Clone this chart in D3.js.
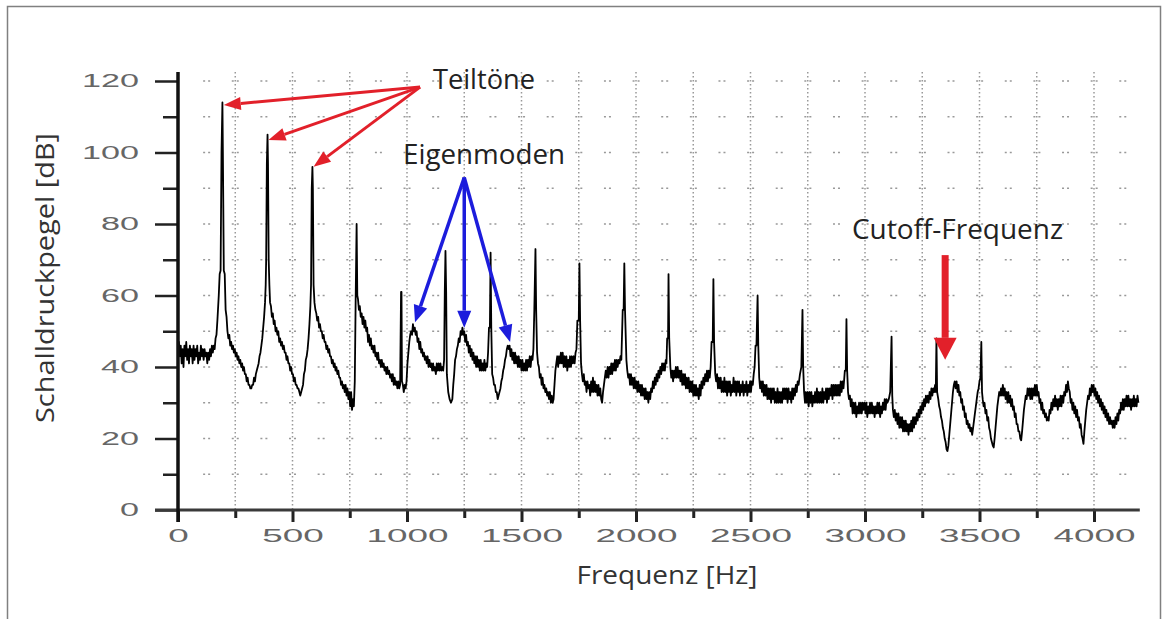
<!DOCTYPE html>
<html>
<head>
<meta charset="utf-8">
<script src="https://cdn.jsdelivr.net/npm/d3@7/dist/d3.min.js"></script>
<style>
  body { margin: 0; background: #fff; }
  svg { display: block; }
</style>
</head>
<body>
<svg id="chart" width="1166" height="619"></svg>
<script>
// axis ticks
const yTicks = [0, 20, 40, 60, 80, 100, 120];
const yMinorTicks = [10, 30, 50, 70, 90, 110];
const xTicks = [0, 500, 1000, 1500, 2000, 2500, 3000, 3500, 4000];
const xMinorTicks = [250, 750, 1250, 1750, 2250, 2750, 3250, 3750];
const gridHz = [250, 500, 750, 1000, 1250, 1500, 1750, 2000, 2250, 2500, 2750, 3000, 3250, 3500, 3750, 4000];
const gridDb = [10, 20, 30, 40, 50, 60, 70, 80, 90, 100, 110, 120];

// spectrum [Hz, dB]
const spectrumLow = [
  [0,44],[4,47],[8,43],[12,46],[16,41],[20,45],[24,40],[28,46],[32,43],[36,47],[40,42],[44,45],[48,41],[52,46],
  [56,43],[60,45],[64,41],[68,46],[72,42],[76,45],[80,43],[84,46],[88,41],[92,44],[96,42],[100,46],[104,43],
  [108,45],[112,42],[116,45],[120,43],[124,44],[128,41],[132,44],[136,42],[140,45],[144,43],[148,46],[152,44],
  [156,46],[160,45],[164,48],[168,49],[172,53],[178,60],[182,66],[186,67],[190,100],[194,114],[196,100],[200,67],
  [204,66],[208,56],[212,54],[216,50],[220,48],[224,49],[228,46],[232,47],[236,45],[240,46],[244,44],[248,45],
  [252,43],[256,44],[260,42],[264,43],[268,41],[272,42],[276,40],[280,41],[284,39],[288,40],[292,38],[296,38],
  [300,36],[304,37],[308,35],[312,35],[316,34],[320,34],[324,35],[328,35],[332,37],[336,36],[340,38],[344,39],
  [348,40],[352,41],[356,43],[360,44],[364,46],[368,48],[372,51],[376,54],[380,58],[383,63],[385,70],[388,97],
  [391,105],[393,97],[396,70],[399,63],[402,58],[406,57],[410,54],[414,55],[418,52],[422,53],[426,50],[430,51],
  [434,49],[438,50],[442,47],[446,48],[450,46],[454,47],[458,45],[462,46],[466,44],[470,44],[474,42],[478,43],
  [482,41],[486,41],[490,39],[494,40],[498,38],[502,38],[506,36],[510,37],[514,35],[518,35],[522,34],[526,34],
  [530,33],[534,32],[538,33],[542,34],[546,35],[550,38],[554,39],[558,42],[562,43],[566,45],[570,48],[574,52],
  [578,57],[581,63],[584,90],[587,96],[589,90],[592,63],[596,58],[600,56],[604,55],[608,53],[612,54],[616,51],
  [620,52],[624,50],[628,50],[632,48],[636,49],[640,47],[644,47],[648,45],[652,46],[656,44],[660,45],[664,43],
  [668,43],[672,41],[676,42],[680,40],[684,41],[688,39],[692,40],[696,38],[700,39],[704,37],[708,37],[712,35],
  [716,36],[720,34],[724,35],[728,33],[732,35],[736,32],[740,34],[744,31],[748,33],[752,29],[756,33],[760,28],
  [764,31],[768,29],[772,36],[776,60],[780,80],[783,60],[786,59],[790,56],[794,57],[798,54],[802,55],[806,52],
  [810,54],[814,51],[818,53],[822,50],[826,51],[830,47],[834,49],[838,46],[842,48],[846,45],[850,46],[854,44],
  [858,46],[862,43],[866,44],[870,42],[874,44],[878,41],[882,42],[886,40],[890,42],[894,40],[898,41],[902,39],
  [906,40],[910,38],[914,40],[918,38],[922,39],[926,37],[930,38],[934,36],[938,38],[942,35],[946,37],[950,35],
  [954,36],[958,34],[962,36],[966,34],[970,35],[974,61],[976,61],[978,36],[982,35],[986,33],[990,35],[994,34],
  [998,36],[1002,41],[1006,44],[1010,47],[1014,49],[1018,50],[1022,49],[1026,52],[1030,50],[1034,51],[1038,49],
  [1042,50],[1046,47],[1050,48],[1054,45],[1058,47],[1062,44],[1066,45],[1070,43],[1074,44],[1078,42],[1082,43],
  [1086,41],[1090,43],[1094,40],[1098,42],[1102,40],[1106,41],[1110,39],[1114,41],[1118,39],[1122,40],[1126,38],
  [1130,41],[1134,39],[1138,41],[1142,39],[1146,41],[1150,39],[1154,40],[1158,39],[1162,42],[1165,61],[1168,72.5],
  [1171,61],[1174,38],[1180,33],[1186,31],[1192,30]
];
const spectrumMid = [
  [1198,31],[1202,35],[1206,38],[1210,42],[1214,43],[1218,45],[1222,46],[1226,48],[1230,47],[1234,50],[1238,49],
  [1242,51],[1246,49],[1250,50],[1254,47],[1258,49],[1262,46],[1266,47],[1270,44],[1274,46],[1278,43],[1282,45],
  [1286,42],[1290,44],[1294,41],[1298,43],[1302,40],[1306,43],[1310,40],[1314,42],[1318,39],[1322,42],[1326,39],
  [1330,41],[1334,39],[1338,42],[1342,39],[1346,41],[1350,40],[1354,44],[1358,51],[1362,51],[1365,72],[1368,51],
  [1372,38],[1376,37],[1380,35],[1384,35],[1388,33],[1392,33],[1396,31],[1400,32],[1404,33],[1408,34],[1412,36],
  [1416,37],[1420,39],[1424,40],[1428,42],[1432,43],[1436,45],[1440,46],[1444,45],[1448,46],[1452,43],[1456,45],
  [1460,42],[1464,44],[1468,41],[1472,44],[1476,41],[1480,43],[1484,40],[1488,43],[1492,40],[1496,42],[1500,39],
  [1504,42],[1508,39],[1512,41],[1516,39],[1520,42],[1524,39],[1528,42],[1532,40],[1536,43],[1540,40],[1544,43],
  [1548,42],[1552,45],[1556,56],[1561,73],[1564,56],[1568,44],[1572,41],[1576,40],[1580,37],[1584,38],[1588,35],
  [1592,37],[1596,34],[1600,35],[1604,33],[1608,34],[1612,32],[1616,33],[1620,31],[1624,33],[1628,30],[1632,32],
  [1636,30],[1640,31],[1644,35],[1648,39],[1652,41],[1656,43],[1660,40],[1664,43],[1668,41],[1672,44],[1676,41],
  [1680,44],[1684,40],[1688,43],[1692,40],[1696,43],[1700,39],[1704,42],[1708,40],[1712,43],[1716,40],[1720,43],
  [1724,41],[1728,43],[1732,41],[1736,44],[1740,45],[1744,53],[1750,53],[1753,69],[1756,53],[1760,41],[1764,38],
  [1768,36],[1772,38],[1776,35],[1780,36],[1784,33],[1788,36],[1792,34],[1796,35],[1800,32],[1804,36],[1808,33],
  [1812,37],[1816,33],[1820,36],[1824,33],[1828,35],[1832,32],[1836,35],[1840,32],[1844,34],[1848,31],[1852,30],
  [1856,33],[1860,35],[1864,37],[1868,39],[1872,37],[1876,40],[1880,37],[1884,40],[1888,38],[1892,41],[1896,38],
  [1900,41],[1904,39],[1908,42],[1912,39],[1916,42],[1920,40],[1924,42],[1928,41],[1932,43],[1936,42],[1942,56],
  [1946,56],[1949,69],[1952,56],[1958,42],[1962,39],[1966,37],[1970,38],[1974,35],[1978,38],[1982,35],[1986,37],
  [1990,34],[1994,37],[1998,34],[2002,36],[2006,33],[2010,36],[2014,33],[2018,35],[2022,32],[2026,35],[2030,32],
  [2034,34],[2038,31],[2042,34],[2046,31],[2050,33],[2054,30],[2058,33],[2062,31],[2066,34],[2070,33],[2074,36],
  [2078,34],[2082,37],[2086,35],[2090,38],[2094,36],[2098,39],[2102,37],[2106,40],[2110,38],[2114,41],[2118,39],
  [2122,41],[2126,39],[2130,42],[2133,41],[2136,48],[2140,48],[2142,66],[2145,48],[2150,40],[2154,37],[2158,39],
  [2162,36],[2166,39],[2170,37],[2174,40],[2178,37],[2182,40],[2186,37],[2190,39],[2194,36],[2198,39],[2202,35],
  [2206,38],[2210,35],[2214,38],[2218,34],[2222,37],[2226,34],[2230,37],[2234,33],[2238,36],[2242,33],[2246,36],
  [2250,32],[2254,35],[2258,32],[2262,35],[2266,32],[2270,34],[2274,31],[2278,35],[2282,32],[2286,36],[2290,34],
  [2294,37],[2298,35],[2302,38],[2306,36],[2310,39],[2314,36],[2318,39],[2322,37],[2326,40],[2330,47],[2335,47],
  [2338,64.6],[2341,47],[2346,38]
];
const spectrumHigh = [
  [2350,36],[2354,38],[2358,34],[2362,37],[2366,34],[2370,37],[2374,33],[2378,36],[2382,33],[2386,37],[2390,33],
  [2394,36],[2398,32],[2402,36],[2406,33],[2410,36],[2414,32],[2418,35],[2422,33],[2426,37],[2430,33],[2434,36],
  [2438,32],[2442,36],[2446,33],[2450,36],[2454,32],[2458,35],[2462,33],[2466,36],[2470,32],[2474,35],[2478,33],
  [2482,36],[2486,32],[2490,35],[2494,33],[2498,36],[2502,33],[2506,36],[2510,35],[2514,38],[2518,40],[2522,46],
  [2526,46],[2531,60],[2534,46],[2538,37],[2542,34],[2546,36],[2550,33],[2554,36],[2558,32],[2562,35],[2566,32],
  [2570,35],[2574,31],[2578,34],[2582,31],[2586,34],[2590,30],[2594,34],[2598,31],[2602,34],[2606,30],[2610,33],
  [2614,30],[2618,34],[2622,30],[2626,33],[2630,30],[2634,33],[2638,30],[2642,34],[2646,31],[2650,34],[2654,31],
  [2658,34],[2662,30],[2666,34],[2670,31],[2674,33],[2678,30],[2682,34],[2686,31],[2690,34],[2694,32],[2698,35],
  [2702,33],[2706,36],[2710,35],[2716,38],[2722,40],[2727,56],[2730,40],[2734,33],[2738,30],[2742,33],[2746,30],
  [2750,33],[2754,29],[2758,33],[2762,30],[2766,33],[2770,29],[2774,32],[2778,30],[2782,33],[2786,30],[2790,34],
  [2794,30],[2798,33],[2802,30],[2806,33],[2810,30],[2814,34],[2818,30],[2822,33],[2826,31],[2830,34],[2834,30],
  [2838,34],[2842,31],[2846,34],[2850,32],[2854,35],[2858,31],[2862,35],[2866,32],[2870,35],[2874,32],[2878,35],
  [2882,32],[2886,35],[2890,32],[2894,36],[2898,33],[2902,36],[2906,34],[2912,39],[2916,39],[2919,53.4],[2922,39],
  [2926,33],[2930,31],[2934,32],[2938,29],[2942,31],[2946,27],[2950,30],[2954,27],[2958,30],[2962,26],[2966,29],
  [2970,27],[2974,30],[2978,27],[2982,30],[2986,27],[2990,30],[2994,28],[2998,30],[3002,27],[3006,30],[3010,26],
  [3014,29],[3018,27],[3022,30],[3026,27],[3030,30],[3034,27],[3038,29],[3042,26],[3046,29],[3050,27],[3054,30],
  [3058,27],[3062,30],[3066,26],[3070,29],[3074,27],[3078,30],[3082,28],[3086,31],[3090,28],[3094,31],[3098,30],
  [3104,31],[3110,33],[3116,48.5],[3119,32],[3122,28],[3126,26],[3130,28],[3134,25],[3138,27],[3142,24],[3146,27],
  [3150,23],[3154,26],[3158,23],[3162,26],[3166,22],[3170,25],[3174,22],[3178,25],[3182,22],[3186,24],[3190,21],
  [3194,24],[3198,22],[3202,25],[3206,22],[3210,26],[3214,23],[3218,26],[3222,24],[3226,27],[3230,25],[3234,28],
  [3238,26],[3242,29],[3246,27],[3250,30],[3254,28],[3258,31],[3262,29],[3266,32],[3270,30],[3274,32],[3278,30],
  [3282,33],[3286,31],[3290,34],[3294,32],[3298,34],[3302,33],[3306,35],[3309,33],[3312,48],[3315,33],[3320,31],
  [3324,29],[3328,28],[3332,26],[3336,25],[3340,23],[3344,22],[3348,20],[3352,19],[3356,17],[3360,16.5],[3364,18],
  [3368,21],[3372,24],[3376,27],[3380,30],[3384,33],[3388,35],[3392,36],[3396,34],[3400,36],[3404,33],[3408,35],
  [3412,32],[3416,33],[3420,30],[3424,31],[3428,28],[3432,29],[3436,26],[3440,27],[3444,24],[3448,25],[3452,23],
  [3456,24],[3460,22],[3464,23],[3468,21],[3472,23],[3476,25],[3480,27],[3484,29],[3488,31],[3492,33],[3496,34],
  [3500,36],[3504,37],[3508,47],[3511,33],[3514,31],[3518,29],[3522,30],[3526,27],[3530,28],[3534,25],[3538,26],
  [3542,23],[3546,22],[3550,20],[3554,19],[3558,18],[3562,17.5],[3566,20],[3570,23],[3574,26],[3578,29],[3582,31],
  [3586,33],[3590,32],[3594,34],[3598,32],[3602,35],[3606,32],[3610,34],[3614,31],[3618,33],[3622,30],[3626,33],
  [3630,30],[3634,32],[3638,29],[3642,31],[3646,28],[3650,29],[3654,26],[3658,27],[3662,24],[3666,24],[3670,22],
  [3674,22],[3678,20],[3682,19.5],[3686,22],[3690,25],[3694,28],[3698,30],[3702,32],[3706,31],[3710,34],[3714,32],
  [3718,34],[3722,31],[3726,34],[3730,31],[3734,34],[3738,32],[3742,35],[3746,32],[3750,35],[3754,32],[3758,33],
  [3762,30],[3766,31],[3770,28],[3774,30],[3778,27],[3782,28],[3786,26],[3790,27],[3794,25],[3798,26],[3802,25],
  [3806,28],[3810,27],[3814,30],[3818,28],[3822,31],[3826,29],[3830,32],[3834,29],[3838,31],[3842,28],[3846,31],
  [3850,29],[3854,32],[3858,29],[3862,32],[3866,30],[3870,33],[3874,32],[3878,35],[3882,33],[3886,36],[3890,34],
  [3894,33],[3898,30],[3902,31],[3906,28],[3910,30],[3914,27],[3918,29],[3922,26],[3926,28],[3930,25],[3934,26],
  [3938,23],[3942,24],[3946,21],[3950,20],[3954,18.5],[3958,22],[3962,25],[3966,28],[3970,30],[3974,32],[3978,31],
  [3982,34],[3986,32],[3990,35],[3994,33],[3998,35],[4002,32],[4006,34],[4010,31],[4014,33],[4018,30],[4022,32],
  [4026,29],[4030,31],[4034,28],[4038,30],[4042,27],[4046,29],[4050,26],[4054,28],[4058,25],[4062,27],[4066,24],
  [4070,26],[4074,24],[4078,25],[4082,23],[4086,25],[4090,23],[4094,26],[4098,24],[4102,27],[4106,25],[4110,28],
  [4114,27],[4118,30],[4122,28],[4126,31],[4130,28],[4134,31],[4138,29],[4142,32],[4146,29],[4150,32],[4154,29],
  [4158,31],[4162,28],[4166,31],[4170,29],[4174,32],[4178,29],[4182,31],[4186,29],[4190,32],[4194,30]
];
const spectrum = spectrumLow.concat(spectrumMid, spectrumHigh);

// annotations, in data units [Hz, dB]
const partialFrom = [1057, 118.3];
const partialTips = [[200, 113.3], [395, 103.5], [592, 96]];
const modeFrom = [1250, 93];
const modeTips = [[1035, 52.5], [1250, 51], [1450, 47]];
const cutoffHz = 3350;
const cutoffDb = [71.3, 42];

const svg = d3.select('#chart');
const red = '#e2202a';
const blue = '#1c1cdc';

const x = d3.scaleLinear().domain([0, 4200]).range([178, 1139.8]);
const y = d3.scaleLinear().domain([0, 120]).range([510, 81]);

// outer frame
svg.append('path')
  .attr('d', 'M7.5,619V6.5H1160.5V619')
  .attr('fill', 'none')
  .attr('stroke', '#808080')
  .attr('stroke-width', 1.5);

// dotted grid
svg.append('g').selectAll('line')
  .data(gridHz)
  .join('line')
  .attr('x1', d => x(d)).attr('x2', d => x(d))
  .attr('y1', 72).attr('y2', 510)
  .attr('stroke', '#999')
  .attr('stroke-width', 1.5)
  .attr('stroke-dasharray', '1.5,2.5');

const groupW = 7;
svg.append('g').selectAll('line')
  .data(gridDb)
  .join('line')
  .attr('x1', x(125) - groupW / 2).attr('x2', x(4200))
  .attr('y1', d => y(d)).attr('y2', d => y(d))
  .attr('stroke', '#999')
  .attr('stroke-width', 1.5)
  .attr('stroke-dasharray', `2,3,2,${(x(125) - x(0) - groupW).toFixed(2)}`);

// spectrum line
const line = d3.line()
  .x(d => x(d[0]))
  .y(d => y(d[1]));

svg.append('path')
  .datum(spectrum)
  .attr('fill', 'none')
  .attr('stroke', '#000')
  .attr('stroke-width', 1.8)
  .attr('stroke-linejoin', 'round')
  .attr('d', line);

// axes
const tickFont = g => g.selectAll('text')
  .attr('font-family', '"Liberation Sans", Arial, sans-serif')
  .attr('font-size', 18)
  .attr('fill', '#666')
  .attr('lengthAdjust', 'spacingAndGlyphs');

const yAxis = svg.append('g')
  .attr('transform', `translate(${x(0)},0)`)
  .call(d3.axisLeft(y).tickValues(yTicks).tickSize(23).tickPadding(16).tickFormat(d3.format('d')))
  .call(tickFont);
yAxis.selectAll('text').attr('textLength', function () { return this.textContent.length * 19; });
yAxis.selectAll('.tick line').attr('stroke', '#222').attr('stroke-width', 2.5);
yAxis.select('.domain').remove();

const yMinor = svg.append('g')
  .attr('transform', `translate(${x(0)},0)`)
  .call(d3.axisLeft(y).tickValues(yMinorTicks).tickSize(15).tickFormat(''));
yMinor.selectAll('.tick line').attr('stroke', '#222').attr('stroke-width', 2.5);
yMinor.select('.domain').remove();

const xAxis = svg.append('g')
  .attr('transform', `translate(0,${y(0)})`)
  .call(d3.axisBottom(x).tickValues(xTicks).tickSize(12).tickPadding(7).tickFormat(d3.format('d')))
  .call(tickFont);
xAxis.selectAll('text').attr('textLength', function () { return this.textContent.length * 20.5; });
xAxis.selectAll('.tick line').attr('stroke', '#222').attr('stroke-width', 3);
xAxis.select('.domain').remove();

const xMinor = svg.append('g')
  .attr('transform', `translate(0,${y(0)})`)
  .call(d3.axisBottom(x).tickValues(xMinorTicks).tickSize(8).tickFormat(''));
xMinor.selectAll('.tick line').attr('stroke', '#222').attr('stroke-width', 3);
xMinor.select('.domain').remove();

// axis lines
svg.append('line')
  .attr('x1', x(0) - 23).attr('x2', x(4200))
  .attr('y1', y(0)).attr('y2', y(0))
  .attr('stroke', '#3a3a3a').attr('stroke-width', 3);
svg.append('line')
  .attr('x1', x(0)).attr('x2', x(0))
  .attr('y1', 72).attr('y2', y(0) + 12)
  .attr('stroke', '#111').attr('stroke-width', 3.5);

// axis titles
svg.append('text')
  .attr('x', 667).attr('y', 584)
  .attr('text-anchor', 'middle')
  .attr('font-family', '"Open Sans", sans-serif')
  .attr('font-size', 26)
  .attr('fill', '#333')
  .attr('textLength', 181).attr('lengthAdjust', 'spacingAndGlyphs')
  .text('Frequenz [Hz]');

svg.append('text')
  .attr('transform', 'translate(54,278) rotate(-90)')
  .attr('text-anchor', 'middle')
  .attr('font-family', '"Open Sans", sans-serif')
  .attr('font-size', 26)
  .attr('fill', '#333')
  .attr('textLength', 290).attr('lengthAdjust', 'spacingAndGlyphs')
  .text('Schalldruckpegel [dB]');

// arrows
function arrow(from, to, color, width, headLen, headW) {
  const x1 = from[0], y1 = from[1], x2 = to[0], y2 = to[1];
  const a = Math.atan2(y2 - y1, x2 - x1);
  const bx = x2 - headLen * Math.cos(a), by = y2 - headLen * Math.sin(a);
  const px = -Math.sin(a) * headW / 2, py = Math.cos(a) * headW / 2;
  svg.append('line')
    .attr('x1', x1).attr('y1', y1).attr('x2', bx).attr('y2', by)
    .attr('stroke', color).attr('stroke-width', width);
  svg.append('path')
    .attr('d', `M${x2},${y2}L${bx + px},${by + py}L${bx - px},${by - py}Z`)
    .attr('fill', color);
}

const pt = d => [x(d[0]), y(d[1])];
partialTips.forEach(t => arrow(pt(partialFrom), pt(t), red, 3, 17, 13));
modeTips.forEach(t => arrow(pt(modeFrom), pt(t), blue, 3.5, 17, 14));
arrow([x(cutoffHz), y(cutoffDb[0])], [x(cutoffHz), y(cutoffDb[1])], red, 7, 22, 23);

// annotation labels
const labelText = ['Teiltöne', 'Eigenmoden', 'Cutoff-Frequenz'];
const labelPos = [[433, 89, 102], [403, 164, 162], [852, 239, 211]];
svg.append('g').selectAll('text')
  .data(labelText)
  .join('text')
  .attr('x', (d, i) => labelPos[i][0])
  .attr('y', (d, i) => labelPos[i][1])
  .attr('textLength', (d, i) => labelPos[i][2])
  .attr('lengthAdjust', 'spacingAndGlyphs')
  .attr('font-family', '"Open Sans", sans-serif')
  .attr('font-size', 27)
  .attr('fill', '#222')
  .text(d => d);
</script>
</body>
</html>
